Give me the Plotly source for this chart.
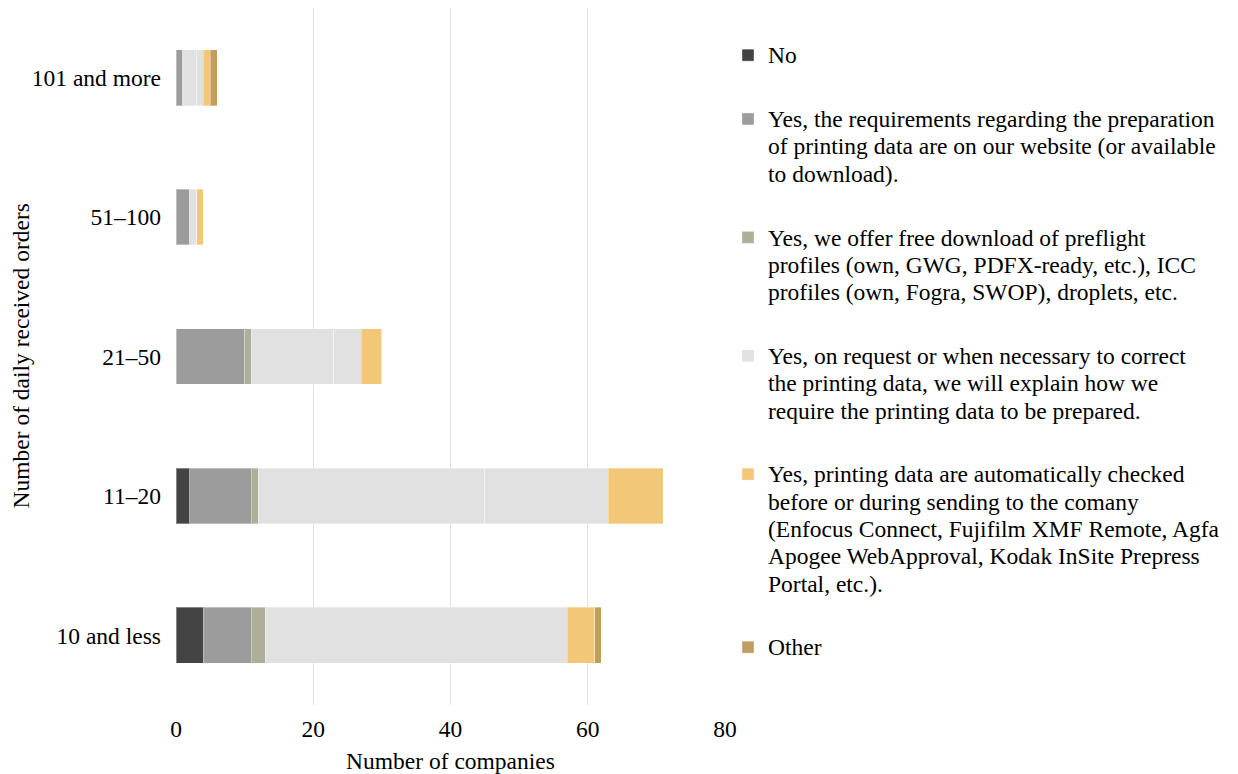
import plotly.graph_objects as go

# Order-volume groups, bottom to top
categories = ["10 and less", "11\u201320", "21\u201350", "51\u2013100", "101 and more"]

# Number of companies per answer
no_answer = [4, 2, 0, 0, 0]
website_requirements = [7, 9, 10, 2, 1]
free_profiles = [2, 1, 1, 0, 0]
explain_part_a = [44, 33, 12, 1, 2]
explain_part_b = [0, 18, 4, 0, 1]
auto_checked = [4, 8, 3, 1, 1]
other = [1, 0, 0, 0, 1]

x_ticks = [0, 20, 40, 60, 80]

labels = [
    "No",
    "Yes, the requirements regarding the preparation<br>of printing data are on our website (or available<br>to download).",
    "Yes, we offer free download of preflight<br>profiles (own, GWG, PDFX-ready, etc.), ICC<br>profiles (own, Fogra, SWOP), droplets, etc.",
    "Yes, on request or when necessary to correct<br>the printing data, we will explain how we<br>require the printing data to be prepared.",
    "Yes, printing data are automatically checked<br>before or during sending to the comany<br>(Enfocus Connect, Fujifilm XMF Remote, Agfa<br>Apogee WebApproval, Kodak InSite Prepress<br>Portal, etc.).",
    "Other",
]

FONT = "Liberation Serif, Times New Roman, serif"
TEXT_PX = 23.5


def legend_text(label):
    # larger glyphs on a tighter line pitch (pitch follows the legend font size)
    return "<br>".join(
        f'<span style="font-size:{TEXT_PX}px">{line}</span>' for line in label.split("<br>")
    )


series = [
    (no_answer, labels[0], "#444444", "g0", True),
    (website_requirements, labels[1], "#9c9c9c", "g1", True),
    (free_profiles, labels[2], "#adaf98", "g2", True),
    (explain_part_a, labels[3], "#e1e1e1", "g3", True),
    (explain_part_b, labels[3], "#e1e1e1", "g3", False),
    (auto_checked, labels[4], "#f2c777", "g4", True),
    (other, labels[5], "#c19d61", "g5", True),
]

fig = go.Figure()
for values, name, color, group, show in series:
    fig.add_trace(go.Bar(
        y=categories,
        x=values,
        name=legend_text(name),
        orientation="h",
        legendgroup=group,
        showlegend=show,
        marker=dict(color=color, line=dict(color="rgba(255,255,255,0.35)", width=1)),
        width=0.4,
    ))

fig.update_layout(
    barmode="stack",
    width=1238,
    height=774,
    margin=dict(l=176, r=513, t=8, b=69),
    paper_bgcolor="white",
    plot_bgcolor="white",
    font=dict(family=FONT, size=TEXT_PX, color="#000000"),
    legend=dict(
        x=1.0 + 3 / 549, xanchor="left", y=1.0 - 27 / 697, yanchor="top",
        traceorder="grouped",
        tracegroupgap=33.5,
        valign="top",
        font=dict(family=FONT, size=21, color="#000000"),
        bgcolor="rgba(0,0,0,0)",
    ),
    xaxis=dict(
        range=[0, 80],
        tickvals=x_ticks,
        showgrid=True,
        gridcolor="#e2e2e2",
        gridwidth=1,
        zeroline=False,
        showline=False,
        ticks="",
        ticklabelstandoff=7,
        automargin=False,
        title=dict(text="Number of companies", font=dict(size=TEXT_PX), standoff=15),
    ),
    yaxis=dict(
        categoryorder="array",
        categoryarray=categories,
        showgrid=False,
        zeroline=False,
        showline=False,
        ticks="",
        ticklabelstandoff=14,
        automargin=False,
    ),
    annotations=[
        dict(
            text="Number of daily received orders",
            xref="paper", yref="paper",
            x=(20 - 176) / 549, y=0.5,
            textangle=-90,
            showarrow=False,
            font=dict(family=FONT, size=TEXT_PX, color="#000000"),
            xanchor="center", yanchor="middle",
        )
    ],
)

fig.write_html("out.html")
